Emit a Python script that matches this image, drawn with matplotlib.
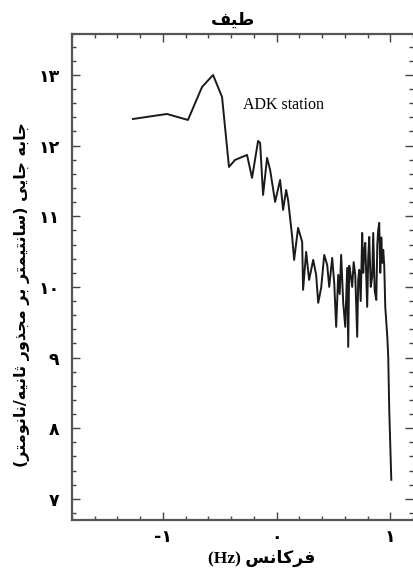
import matplotlib.pyplot as plt
from matplotlib.ticker import MultipleLocator

# Data (log frequency vs. level)
# ------------------------------------------------------
freq = [-1.264, -0.965, -0.780, -0.656, -0.559, -0.480, -0.419, -0.366, -0.260,
        -0.216, -0.163, -0.145, -0.119, -0.084, -0.057, -0.013, 0.031, 0.057,
        0.084, 0.101, 0.137, 0.154, 0.189, 0.225, 0.233, 0.260, 0.286, 0.322,
        0.348, 0.366, 0.392, 0.419, 0.445, 0.463, 0.489, 0.507, 0.524, 0.542,
        0.555, 0.568, 0.586, 0.604, 0.621, 0.630, 0.639, 0.648, 0.665, 0.678,
        0.692, 0.709, 0.718, 0.727, 0.740, 0.753, 0.762, 0.771, 0.780, 0.797,
        0.806, 0.815, 0.828, 0.841, 0.850, 0.863, 0.877, 0.886, 0.894, 0.903,
        0.912, 0.921, 0.930, 0.938, 0.947, 0.956, 0.974, 0.982, 0.991, 1.009]
level = [12.377, 12.448, 12.363, 12.830, 13.000, 12.689, 11.698, 11.797, 11.868,
         11.543, 12.066, 12.038, 11.302, 11.826, 11.656, 11.203, 11.514, 11.090,
         11.373, 11.231, 10.708, 10.382, 10.835, 10.637, 9.958, 10.495, 10.099, 10.382,
         10.170, 9.774, 9.986, 10.453, 10.311, 10.000, 10.410, 10.057, 9.434, 10.170,
         9.900, 10.453, 9.774, 9.434, 10.269, 9.151, 10.300, 10.212, 10.000, 10.350,
         10.170, 9.293, 10.100, 10.241, 9.800, 10.764, 10.198, 10.500, 10.623, 9.717,
         10.400, 10.708, 10.000, 10.142, 10.764, 9.950, 9.816, 10.600, 10.807, 10.906,
         10.200, 10.700, 10.340, 10.524, 10.300, 9.717, 9.293, 9.010, 8.260, 7.269]

y_ticks = [7, 8, 9, 10, 11, 12, 13]
y_labels = ['۷', '۸', '۹', '۱۰', '۱۱', '۱۲', '۱۳']
x_ticks = [-1, 0, 1]
x_labels = ['-۱', '۰', '۱']

title_text = 'طیف'
xlabel_word = 'فرکانس'
ylabel_text = 'جابه جایی (سانتیمتر بر مجذور ثانیه/نانومتر)'
station = 'ADK station'


# Tiny Arabic/Persian shaper (matplotlib has no bidi support)
# (isolated, final, initial, medial)
# -----------------------------------------------------------
FORMS = {
    'ا': ('\uFE8D', '\uFE8E', None, None),
    'ب': ('\uFE8F', '\uFE90', '\uFE91', '\uFE92'),
    'ت': ('\uFE95', '\uFE96', '\uFE97', '\uFE98'),
    'ث': ('\uFE99', '\uFE9A', '\uFE9B', '\uFE9C'),
    'ج': ('\uFE9D', '\uFE9E', '\uFE9F', '\uFEA0'),
    'ذ': ('\uFEAB', '\uFEAC', None, None),
    'ر': ('\uFEAD', '\uFEAE', None, None),
    'ز': ('\uFEAF', '\uFEB0', None, None),
    'س': ('\uFEB1', '\uFEB2', '\uFEB3', '\uFEB4'),
    'ط': ('\uFEC1', '\uFEC2', '\uFEC3', '\uFEC4'),
    'ف': ('\uFED1', '\uFED2', '\uFED3', '\uFED4'),
    'م': ('\uFEE1', '\uFEE2', '\uFEE3', '\uFEE4'),
    'ن': ('\uFEE5', '\uFEE6', '\uFEE7', '\uFEE8'),
    'ه': ('\uFEE9', '\uFEEA', '\uFEEB', '\uFEEC'),
    'و': ('\uFEED', '\uFEEE', None, None),
    'ک': ('\uFB8E', '\uFB8F', '\uFB90', '\uFB91'),
    'ی': ('\uFBFC', '\uFBFD', '\uFBFE', '\uFBFF'),
}
MIRROR = {'(': ')', ')': '('}


def rtl(text):
    out = []
    for i, ch in enumerate(text):
        if ch not in FORMS:
            out.append(MIRROR.get(ch, ch))
            continue
        prev = text[i - 1] if i > 0 else ''
        nxt = text[i + 1] if i + 1 < len(text) else ''
        joinPrev = prev in FORMS and FORMS[prev][2] is not None
        joinNext = nxt in FORMS and FORMS[ch][2] is not None
        iso, fin, ini, med = FORMS[ch]
        if joinPrev and joinNext:
            out.append(med)
        elif joinPrev:
            out.append(fin)
        elif joinNext:
            out.append(ini)
        else:
            out.append(iso)
    return ''.join(reversed(out))


plt.rcParams['font.family'] = ['Liberation Serif', 'DejaVu Sans']

fig = plt.figure(figsize=(4.14, 5.74), dpi=100)
ax = fig.add_axes([72/414, 54/574, 341/414, 486/574])

ax.plot(freq, level, color='#1a1a1a', linewidth=1.4)

ax.set_xlim(-1.80, 1.20)
ax.set_ylim(6.70, 13.58)

ax.set_xticks(x_ticks, labels=x_labels)
ax.set_yticks(y_ticks, labels=y_labels)
ax.xaxis.set_minor_locator(MultipleLocator(0.2))
ax.yaxis.set_minor_locator(MultipleLocator(0.2))
ax.tick_params(which='both', direction='in', top=True, right=True, color='#444444', width=1)
ax.tick_params(which='major', length=6)
ax.tick_params(axis='x', which='major', pad=6)
ax.tick_params(axis='y', which='major', pad=9)
ax.tick_params(which='minor', length=3)
for lab in ax.get_xticklabels() + ax.get_yticklabels():
    lab.set_fontfamily('DejaVu Sans')
    lab.set_fontweight('bold')
    lab.set_fontsize(12.5)

for side in ['left', 'bottom', 'top']:
    ax.spines[side].set_color('#555555')
    ax.spines[side].set_linewidth(1.6)
ax.spines['right'].set_visible(False)

ax.text(-0.295, 12.58, station, fontsize=11.5, family='Liberation Serif', va='center', ha='left')

fig.text(233/414, 1 - 20/574, rtl(title_text), ha='center', va='center',
         family='DejaVu Sans', fontweight='bold', fontsize=12.5)
fig.text(262/414, 1 - 558/574, '(Hz) ' + rtl(xlabel_word), ha='center', va='center',
         family=['Liberation Serif', 'DejaVu Sans'], fontweight='bold', fontsize=12.5)
fig.text(22/414, 1 - 295/574, rtl(ylabel_text), ha='center', va='center', rotation=90,
         family='DejaVu Sans', fontweight='bold', fontsize=11.5)

plt.savefig('out.png', dpi=100)
